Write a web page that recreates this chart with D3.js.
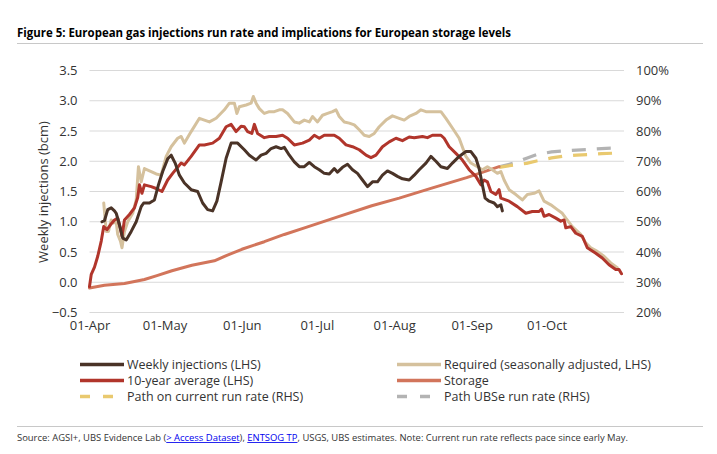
<!DOCTYPE html>
<html>
<head>
<meta charset="utf-8">
<script src="https://cdn.jsdelivr.net/npm/d3@7"></script>
<style>
  body{margin:0;background:#fff;}
  svg{display:block;font-family:"Open Sans",sans-serif;}
</style>
</head>
<body>
<div id="chart"></div>
<script>
// x values are days counted from 01-Apr, LHS values in bcm, RHS values in %
const tick_dates = ["2022-04-01","2022-05-01","2022-06-01","2022-07-01","2022-08-01","2022-09-01","2022-10-01"]
const lhs_ticks = [-0.5,0,0.5,1,1.5,2,2.5,3,3.5]
const rhs_ticks = [20,30,40,50,60,70,80,90,100]

const weekly_injections = [[5,1.0],[6,1.02],[7.3,1.20],[8.7,1.23],[10,1.18],[10.7,1.14],[12,0.95],[13.3,0.73],[14.7,0.70],[16.7,0.84],[18.7,1.0],[20.7,1.25],[21.7,1.31],[24,1.31],[26,1.36],[27.6,1.61],[29.3,1.83],[31.3,2.04],[32.7,2.10],[34.3,1.97],[36,1.77],[38,1.64],[40.7,1.53],[43.3,1.50],[45.3,1.31],[47.3,1.20],[49.3,1.18],[51,1.34],[52.7,1.66],[54.7,2.05],[56.7,2.30],[59.3,2.30],[62,2.19],[64,2.10],[66.7,2.02],[68.7,2.10],[70.7,2.13],[72.7,2.21],[74.7,2.24],[76.7,2.21],[78,2.23],[80,2.10],[82,1.99],[84,1.91],[86,1.91],[88,1.98],[90,1.91],[92,1.86],[94,1.80],[96,1.79],[98,1.88],[99.3,1.82],[101.3,1.90],[103.3,1.95],[105.3,1.86],[107.3,1.80],[109.3,1.69],[111.3,1.58],[113.3,1.66],[115.3,1.66],[117.3,1.77],[119.3,1.84],[121.3,1.80],[123.3,1.75],[125.3,1.71],[128,1.69],[130,1.77],[132,1.86],[134.7,1.97],[136.7,2.08],[138.7,2.0],[140.7,1.91],[143.3,1.88],[145.3,1.97],[148,2.08],[150.7,2.16],[152.7,2.16],[154.7,2.05],[156,1.88],[157.3,1.61],[158.4,1.39],[160,1.34],[162,1.31],[163.3,1.25],[164.7,1.28],[165.3,1.18]]

const required = [[5.7,1.31],[6.7,0.84],[7.6,0.84],[8.7,1.03],[9.7,0.98],[10.7,1.0],[11.3,0.79],[12.4,0.68],[13,0.57],[14,0.84],[15.3,1.0],[17.3,1.14],[18.7,1.36],[19.6,1.91],[20.7,1.66],[22,1.88],[24.7,1.83],[26.7,1.79],[28.7,1.77],[30.7,2.08],[32.7,2.24],[35.3,2.38],[36.7,2.41],[38,2.30],[40.7,2.49],[44,2.71],[46,2.68],[48,2.65],[50.7,2.71],[54,2.85],[56,2.96],[58,2.96],[59,2.79],[60,2.90],[62.7,2.93],[64.7,2.96],[65.6,3.07],[66.7,2.96],[68,2.87],[70,2.79],[72,2.82],[74,2.82],[76,2.85],[77.3,2.85],[79.3,2.79],[82,2.65],[84,2.63],[86,2.68],[88,2.65],[89.3,2.74],[91.3,2.65],[93.3,2.76],[95.3,2.79],[97.3,2.82],[98.7,2.85],[100,2.74],[102,2.65],[104,2.63],[106,2.60],[108,2.52],[110,2.43],[112,2.41],[114,2.46],[116,2.57],[118.7,2.68],[121.3,2.75],[124,2.71],[126,2.68],[128,2.74],[130.7,2.79],[132.7,2.85],[134.7,2.82],[137.3,2.82],[140.7,2.82],[142.7,2.71],[145.3,2.55],[148,2.38],[150.7,2.08],[152.7,1.97],[155.3,1.91],[157.3,1.86],[159.3,1.91],[161.3,1.86],[163.3,1.80],[164.7,1.83],[166,1.69],[168,1.53],[170.7,1.45],[173.3,1.36],[175.3,1.45],[178,1.47],[180,1.51],[182,1.34],[184.7,1.28],[187.3,1.20],[189.3,1.14],[190.7,1.06],[193.3,0.92],[196.7,0.79],[198.7,0.65],[200.7,0.57],[203.3,0.51],[206,0.43],[208.7,0.32],[211.3,0.24]]

const ten_year_avg = [[0,-0.07],[0.7,0.13],[2,0.25],[3.3,0.43],[4.7,0.68],[5.7,0.92],[7,0.87],[8.4,0.95],[10,1.03],[11.3,1.06],[12.3,0.90],[13,0.76],[14,1.03],[16,1.12],[18,1.23],[19.3,1.40],[20,1.61],[21,1.47],[22,1.61],[24.7,1.58],[26.7,1.55],[29,1.50],[31.3,1.69],[33.3,1.80],[36.7,1.97],[38,1.94],[40.7,2.08],[44,2.27],[46,2.27],[49.3,2.30],[52,2.38],[54.7,2.57],[56.7,2.61],[58.7,2.49],[60.7,2.58],[62,2.57],[63.3,2.49],[65,2.46],[66,2.61],[67.3,2.46],[70,2.39],[72,2.41],[74.7,2.41],[77.3,2.43],[79.3,2.38],[82,2.27],[85.3,2.30],[88,2.35],[90,2.43],[92,2.38],[94,2.43],[98,2.43],[100,2.38],[102.7,2.27],[105.3,2.24],[108,2.19],[110.7,2.10],[112.7,2.06],[114.7,2.10],[117.3,2.24],[120,2.32],[122.7,2.38],[125.3,2.34],[128,2.40],[130,2.39],[133.3,2.41],[135.3,2.39],[137.3,2.43],[140.7,2.43],[142,2.38],[144,2.24],[146.7,2.13],[149.3,2.02],[152,1.86],[154.7,1.75],[156.7,1.61],[158,1.69],[159.3,1.66],[160.7,1.50],[162.7,1.45],[164,1.53],[164.7,1.39],[168,1.34],[171.3,1.25],[174.7,1.14],[177.3,1.17],[180,1.17],[181,1.21],[182,1.09],[184,1.12],[186.7,1.06],[188.7,1.01],[190,1.03],[190.7,0.90],[192.7,0.92],[194.7,0.81],[197.3,0.76],[199.3,0.57],[202.7,0.48],[205.3,0.40],[208,0.29],[210.7,0.21],[212,0.21],[213,0.14]]

const storage = [[0,28.1],[6,29.0],[14,29.6],[22,30.9],[27,32.2],[33,33.8],[41,35.6],[50,37.1],[55,38.9],[61,40.9],[70,43.4],[78,45.8],[87,48.2],[100,51.8],[113,55.3],[124,57.8],[137,61.1],[151,64.6],[159,66.8],[164,68.2]]

const path_current = [[164,68.0],[170,68.8],[175,69.3],[179,70.1],[185,71.1],[190,71.7],[195,72.0],[200,72.2],[205,72.5],[211,72.7]]
const path_ubse = [[164,68.2],[170,69.4],[175,71.0],[179,72.2],[185,73.1],[190,73.4],[195,73.7],[200,73.9],[205,74.2],[211,74.4]]

const legend_items = [
  {name:"Weekly injections (LHS)", color:"#4a3327", dash:null},
  {name:"Required (seasonally adjusted, LHS)", color:"#d5c19d", dash:null},
  {name:"10-year average (LHS)", color:"#b1352b", dash:null},
  {name:"Storage", color:"#d2755b", dash:null},
  {name:"Path on current run rate (RHS)", color:"#e9c96f", dash:"10,13"},
  {name:"Path UBSe run rate (RHS)", color:"#b3b3b3", dash:"10,13"}
]

const W = 717, H = 454
const svg = d3.select("#chart").append("svg")
    .attr("width", W)
    .attr("height", H)

// plot area
const plot_left = 89.5, plot_right = 624, plot_top = 70.5, plot_bottom = 312.5
const start = new Date(2022,3,1)
const day_ms = 864e5

const x = d3.scaleLinear().domain([0,214]).range([plot_left,plot_right])
const y = d3.scaleLinear().domain([-0.5,3.5]).range([plot_bottom,plot_top])
const y2 = d3.scaleLinear().domain([20,100]).range([plot_bottom,plot_top])

// title
svg.append("text")
    .attr("x",17).attr("y",37)
    .attr("textLength",494).attr("lengthAdjust","spacingAndGlyphs")
    .style("font-size","12px").style("font-weight","bold").style("fill","#000")
    .text("Figure 5: European gas injections run rate and implications for European storage levels")
svg.append("line").attr("x1",17).attr("x2",703).attr("y1",43.5).attr("y2",43.5)
    .attr("stroke","#c8c8c8").attr("stroke-width",1)

// gridlines
svg.append("g").selectAll("line")
    .data(lhs_ticks)
    .join("line")
    .attr("x1",plot_left).attr("x2",plot_right)
    .attr("y1",d=>y(d)).attr("y2",d=>y(d))
    .attr("stroke","#d9d9d9").attr("stroke-width",1.2)

// left axis
const yAxisG = svg.append("g")
    .attr("transform",`translate(${plot_left},0)`)
    .call(d3.axisLeft(y).tickValues(lhs_ticks).tickFormat(d3.format(".1f")).tickSize(0).tickPadding(12))
yAxisG.select(".domain").remove()
yAxisG.selectAll("text").style("font-size","13px").style("fill","#333").style("font-family","Open Sans")

// right axis
const y2AxisG = svg.append("g")
    .attr("transform",`translate(${plot_right},0)`)
    .call(d3.axisRight(y2).tickValues(rhs_ticks).tickFormat(d=>d+"%").tickSize(0).tickPadding(12))
y2AxisG.select(".domain").remove()
y2AxisG.selectAll("text").style("font-size","13px").style("fill","#333").style("font-family","Open Sans")

// bottom axis - dates
const xAxisG = svg.append("g")
    .attr("transform",`translate(0,${plot_bottom})`)
    .call(d3.axisBottom(x)
        .tickValues(tick_dates.map(d=>Math.round((new Date(d+"T00:00:00")-start)/day_ms)))
        .tickFormat(d=>d3.timeFormat("%d-%b")(new Date(start.getTime()+d*day_ms)))
        .tickSize(0).tickPadding(8))
xAxisG.select(".domain").remove()
xAxisG.selectAll("text").style("font-size","13px").style("fill","#333").style("font-family","Open Sans")

// y axis title
svg.append("text")
    .attr("transform","translate(48,192)rotate(-90)")
    .attr("text-anchor","middle")
    .style("font-size","13px").style("fill","#333")
    .text("Weekly injections (bcm)")

const line_l = d3.line().x(d=>x(d[0])).y(d=>y(d[1]))
const line_r = d3.line().x(d=>x(d[0])).y(d=>y2(d[1]))

function draw(data, gen, color, width, dash){
    var p = svg.append("path")
        .datum(data)
        .attr("d",gen)
        .attr("fill","none")
        .attr("stroke",color)
        .attr("stroke-width",width)
        .attr("stroke-linejoin","round")
        .attr("stroke-linecap",dash ? "butt" : "round")
    if(dash){ p.attr("stroke-dasharray",dash) }
}

draw(path_ubse, line_r, "#b3b3b3", 3.2, "14,11")
draw(path_current, line_r, "#e9c96f", 3.2, "14,11")
draw(storage, line_r, "#d2755b", 3, null)
draw(required, line_l, "#d5c19d", 3, null)
draw(ten_year_avg, line_l, "#b1352b", 3, null)
draw(weekly_injections, line_l, "#4a3327", 3, null)

// legend
const leg = svg.append("g")
const leg_rows = [364.5, 380.5, 396.5]
legend_items.forEach(function(d,i){
    var col = i%2, row = Math.floor(i/2)
    var x0 = col==0 ? 80 : 397
    var yy = leg_rows[row]
    leg.append("line")
        .attr("x1",x0).attr("x2",x0+44)
        .attr("y1",yy).attr("y2",yy)
        .attr("stroke",d.color).attr("stroke-width",3.5)
        .attr("stroke-dasharray",d.dash)
    leg.append("text")
        .attr("x",x0+47).attr("y",yy+4.5)
        .style("font-size","12.5px").style("fill","#333")
        .text(d.name)
})

// bottom line and source
svg.append("line").attr("x1",17).attr("x2",703).attr("y1",426.5).attr("y2",426.5)
    .attr("stroke","#c8c8c8").attr("stroke-width",1)

const src = svg.append("text")
    .attr("x",17).attr("y",441)
    .attr("textLength",611).attr("lengthAdjust","spacingAndGlyphs")
    .style("font-size","8.5px").style("fill","#333")
src.append("tspan").text("Source: AGSI+, UBS Evidence Lab (")
src.append("tspan").text("> Access Dataset").style("fill","#0000ee").style("text-decoration","underline")
src.append("tspan").text("), ")
src.append("tspan").text("ENTSOG TP").style("fill","#0000ee").style("text-decoration","underline")
src.append("tspan").text(", USGS, UBS estimates. Note: Current run rate reflects pace since early May.")
</script>
</body>
</html>
